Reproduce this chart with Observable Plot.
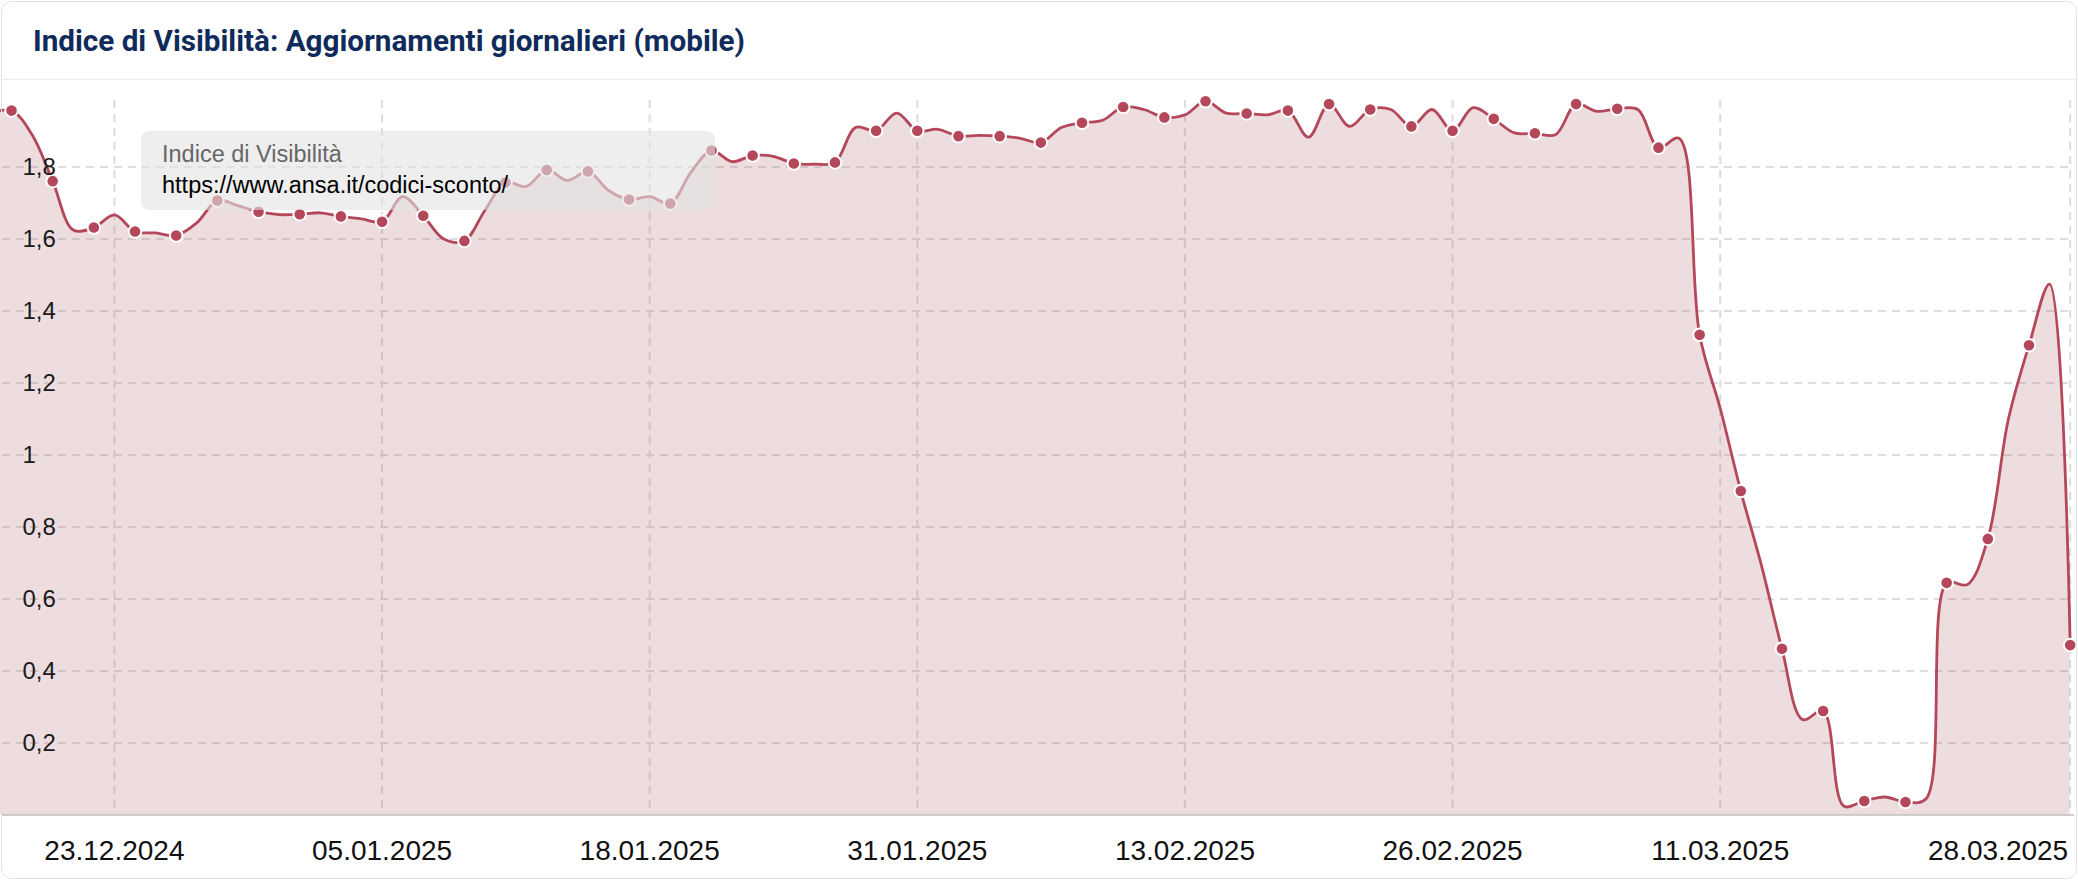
<!DOCTYPE html>
<html><head><meta charset="utf-8">
<script src="https://cdn.jsdelivr.net/npm/d3@7"></script>
<script src="https://cdn.jsdelivr.net/npm/@observablehq/plot@0.6"></script>
<style>
html,body{margin:0;padding:0;background:#fff;width:2078px;height:880px;overflow:hidden;}
#chart{position:absolute;left:0;top:80px;}
#card{position:absolute;left:1px;top:1px;width:2074px;height:876px;border:1px solid #e4e4e4;border-radius:10px;pointer-events:none;}
#sep{position:absolute;left:2px;top:79px;width:2074px;height:0;border-top:1px solid #ececec;}
#title{position:absolute;left:33px;top:27px;font-family:Roboto,"Noto Sans",sans-serif;font-weight:700;font-size:29px;line-height:29px;color:#0f2b5b;white-space:nowrap;transform-origin:0 0;}
#tip{position:absolute;left:141px;top:131px;width:574px;height:79px;border-radius:8px;background:rgba(226,226,226,0.6);font-family:"Liberation Sans",Arial,sans-serif;font-size:23.5px;line-height:23.5px;}
#tip span{position:absolute;left:21px;white-space:nowrap;}
</style></head>
<body>
<div id="chart"></div>
<div id="sep"></div>
<div id="title">Indice di Visibilità: Aggiornamenti giornalieri (mobile)</div>
<div id="tip"><span id="t1" style="top:12px;color:#666">Indice di Visibilità</span><span id="t2" style="top:43px;color:#000">https://www.ansa.it/codici-sconto/</span></div>
<div id="card"></div>
<script>
// Daily values, first day 17.12.2024, last day 28.03.2025
const firstDay = "2024-12-17";
const values = [
  1.950, 1.957, 1.890, 1.761, 1.625, 1.632, 1.667, 1.621,   // 17.12 - 24.12
  1.617, 1.610, 1.645, 1.707, 1.693, 1.676, 1.668,          // 25.12 - 31.12
  1.669, 1.673, 1.663, 1.656, 1.648, 1.718, 1.665,          // 01.01 - 07.01
  1.600, 1.595, 1.680, 1.757, 1.746, 1.792, 1.763,          // 08.01 - 14.01
  1.788, 1.735, 1.710, 1.718, 1.699, 1.785, 1.846,          // 15.01 - 21.01
  1.815, 1.832, 1.830, 1.810, 1.808, 1.813, 1.910,          // 22.01 - 28.01
  1.901, 1.950, 1.901, 1.905, 1.886, 1.888, 1.886,          // 29.01 - 04.02
  1.880, 1.868, 1.910, 1.923, 1.930, 1.967, 1.960,          // 05.02 - 11.02
  1.938, 1.945, 1.983, 1.950, 1.949, 1.945, 1.957,          // 12.02 - 18.02
  1.883, 1.975, 1.913, 1.960, 1.960, 1.913, 1.960,          // 19.02 - 25.02
  1.901, 1.965, 1.934, 1.895, 1.894, 1.890, 1.975,          // 26.02 - 04.03
  1.955, 1.962, 1.960, 1.854, 1.880, 1.334, 1.130,          // 05.03 - 11.03
  0.900, 0.694, 0.462, 0.265, 0.289, 0.025, 0.039,          // 12.03 - 18.03
  0.050, 0.036, 0.045, 0.645, 0.640, 0.767, 1.100,          // 19.03 - 25.03
  1.305, 1.475, 0.472                                       // 26.03 - 28.03
];
// dates that carry a marker (every second day from 18.12.2024)
const markerStart = "2024-12-18";
const xTickDates = ["2024-12-23","2025-01-05","2025-01-18","2025-01-31","2025-02-13","2025-02-26","2025-03-11","2025-03-28"];
const yTickValues = [0.2, 0.4, 0.6, 0.8, 1, 1.2, 1.4, 1.6, 1.8];
const yTickLabels = ["0,2","0,4","0,6","0,8","1","1,2","1,4","1,6","1,8"];

const color = "#b4485a";
const DAY = 864e5;
const t0 = Date.parse(firstDay + "T00:00:00Z");
const data = values.map((v, i) => ({date: new Date(t0 + i * DAY), value: v}));
const m0 = Date.parse(markerStart + "T00:00:00Z");
const markers = data.filter(d => d.date >= m0 && Math.round((d.date - m0) / DAY) % 2 === 0);
const xTicks = xTickDates.map(s => new Date(s + "T00:00:00Z"));
const fmtDate = d3.utcFormat("%d.%m.%Y");
const yTicks = yTickValues.map((v, i) => ({v, label: yTickLabels[i]}));

const grid = {stroke: "#dcdcdc", strokeWidth: 2, strokeDasharray: "8,6"};
const font = "'Liberation Sans', Arial, sans-serif";

const plot = Plot.plot({
  width: 2078,
  height: 800,
  marginLeft: 2,
  marginRight: 4,
  marginTop: 20,
  marginBottom: 65.5,
  style: {fontFamily: font, background: "transparent"},
  x: {type: "utc", domain: [new Date(m0 - 0.437 * DAY), new Date(Date.parse("2025-03-28T00:00:00Z") + 0.21 * DAY)], axis: null},
  y: {domain: [0, 1.985], axis: null},
  marks: [
    Plot.ruleY(yTicks, {y: "v", ...grid}),
    Plot.ruleX(xTicks, {x: d => d, ...grid}),
    Plot.ruleY([0], {stroke: "#d0d0d0", strokeWidth: 2}),
    Plot.areaY(data, {x: "date", y: "value", curve: "catmull-rom", fill: "#b7777f", fillOpacity: 0.25}),
    Plot.lineY(data, {x: "date", y: "value", curve: "catmull-rom", stroke: color, strokeWidth: 2.8}),
    Plot.dot(markers, {x: "date", y: "value", r: 6.3, fill: color, stroke: "#fff", strokeWidth: 2}),
    Plot.text(yTicks, {y: "v", text: "label", frameAnchor: "left", textAnchor: "start", dx: 20, fontSize: 24, fill: "#1a1a1a"}),
    Plot.text(xTicks.slice(0, -1), {x: d => d, text: d => fmtDate(d), frameAnchor: "bottom", lineAnchor: "bottom", dy: 44.5, fontSize: 28, fill: "#111"}),
    Plot.text(xTicks.slice(-1), {x: d => d, text: d => fmtDate(d), frameAnchor: "bottom", lineAnchor: "bottom", textAnchor: "end", dx: -2, dy: 44.5, fontSize: 28, fill: "#111"})
  ]
});
document.getElementById("chart").appendChild(plot);

// fit the title to its measured width in the reference
const title = document.getElementById("title");
const w = title.getBoundingClientRect().width;
title.style.transform = `scaleX(${712 / w})`;
</script>
</body></html>
